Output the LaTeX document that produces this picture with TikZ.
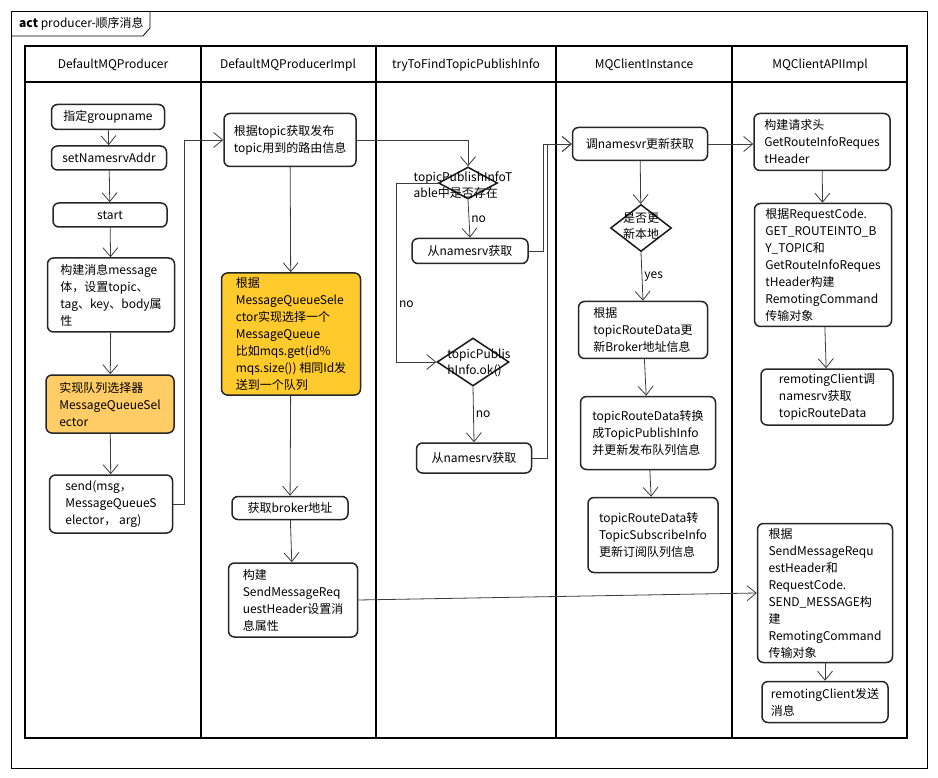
\documentclass[tikz,border=0pt]{standalone}
\usepackage{fontspec}
\setmainfont{Noto Sans CJK SC}
\usetikzlibrary{positioning, shapes.geometric, arrows.meta}

\definecolor{selorange}{HTML}{FFCC66}
\definecolor{selyellow}{HTML}{FFCA2C}
\definecolor{wire}{HTML}{3C3C3C}

\tikzset{
    act/.style={draw=black!85, line width=1.5pt, rounded corners=6pt, fill=white, align=left, inner sep=0pt, font=\fontsize{12}{17}\selectfont},
    decision/.style={draw=black!90, line width=1.5pt, shape=diamond, inner sep=0pt},
    flow/.style={draw=wire, line width=0.8pt, -{Straight Barb[length=9pt,width=15pt]}},
    guard/.style={font=\fontsize{12}{14}\selectfont, inner sep=2pt},
    lanehead/.style={font=\fontsize{12}{14}\selectfont},
}

\begin{document}
\begin{tikzpicture}[x=1pt, y=-1pt]
\useasboundingbox (0,0) rectangle (938,778);
\draw[line width=0.8pt] (11,11) rectangle (927,768);
\draw[line width=0.8pt] (11,36) -- (143,36) -- (150,28) -- (150,11);
\node[anchor=west, font=\fontsize{12}{14}\selectfont, inner sep=0pt] (title) at (19,24) {\textbf{act} producer-顺序消息};

\draw[line width=2pt] (25,46) rectangle (907,738);
\draw[line width=2pt] (25,82) -- (907,82);
\foreach \x in {201,376,556,732} \draw[line width=2pt] (\x,46) -- (\x,738);
\node[lanehead] (hdProducer) at (113,65) {DefaultMQProducer};
\node[lanehead] (hdImpl) at (288,65) {DefaultMQProducerImpl};
\node[lanehead] (hdFind) at (466,65) {tryToFindTopicPublishInfo};
\node[lanehead] (hdInstance) at (644,65) {MQClientInstance};
\node[lanehead] (hdApi) at (820,65) {MQClientAPIImpl};

% DefaultMQProducer
\node[act, align=center, minimum width=113pt, minimum height=25pt] (group) at (108,117) {指定groupname};
\node[act, align=center, minimum width=115pt, minimum height=24pt] (addr) at (109,158) {setNamesrvAddr};
\node[act, align=center, minimum width=114pt, minimum height=24pt] (start) at (110,215) {start};
\node[act, minimum width=127pt, minimum height=74pt] (msg) at (111,295) {构建消息message\\体，设置topic、\\tag、key、body属\\性};
\node[act, fill=selorange, minimum width=128pt, minimum height=58pt] (selector) at (110,404) {实现队列选择器\\MessageQueueSel\\ector};
\node[act, minimum width=123pt, minimum height=58pt] (send) at (111,504) {send(msg，\\MessageQueueS\\elector， arg)};

% DefaultMQProducerImpl
\node[act, minimum width=132pt, minimum height=53pt] (route) at (290,140) {根据topic获取发布\\topic用到的路由信息};
\node[act, fill=selyellow, minimum width=139pt, minimum height=122pt] (choose) at (291,334) {根据\\MessageQueueSele\\ctor实现选择一个\\MessageQueue\\比如mqs.get(id\%\\mqs.size()) 相同Id发\\送到一个队列};
\node[act, align=center, minimum width=116pt, minimum height=23pt] (broker) at (290,508) {获取broker地址};
\node[act, minimum width=129pt, minimum height=74pt] (header) at (293,600) {构建\\SendMessageReq\\uestHeader设置消\\息属性};

% tryToFindTopicPublishInfo
\node[decision, minimum width=59pt, minimum height=32pt] (exist) at (468,183) {};
\node[align=left, font=\fontsize{12}{16}\selectfont, inner sep=0pt] (existtext) at (463,185) {topicPublishInfoT\\able中是否存在};
\node[act, align=center, minimum width=116pt, minimum height=25pt] (fetchA) at (470,251) {从namesrv获取};
\node[decision, minimum width=72pt, minimum height=48pt] (ok) at (473,362) {};
\node[align=left, font=\fontsize{12}{16}\selectfont, inner sep=0pt] (oktext) at (479,363) {topicPublis\\hInfo.ok()};
\node[act, align=center, minimum width=115pt, minimum height=30pt] (fetchB) at (474,458) {从namesrv获取};

% MQClientInstance
\node[act, align=center, minimum width=135pt, minimum height=33pt] (update) at (640,144) {调namesvr更新获取};
\node[decision, minimum width=61pt, minimum height=47pt] (local) at (641,228) {};
\node[align=center, font=\fontsize{12}{16}\selectfont, inner sep=0pt] (localtext) at (641,226) {是否更\\新本地};
\node[act, minimum width=129pt, minimum height=57pt] (routeinfo) at (643,330) {根据\\topicRouteData更\\新Broker地址信息};
\node[act, minimum width=135pt, minimum height=73pt] (pubinfo) at (648,433) {topicRouteData转换\\成TopicPublishInfo\\并更新发布队列信息};
\node[act, minimum width=130pt, minimum height=75pt] (subinfo) at (653,535) {topicRouteData转\\TopicSubscribeInfo\\更新订阅队列信息};

% MQClientAPIImpl
\node[act, minimum width=136pt, minimum height=57pt] (reqhead) at (822,142) {构建请求头\\GetRouteInfoReques\\tHeader};
\node[act, minimum width=137pt, minimum height=123pt] (reqcmd) at (823,265) {根据RequestCode.\\GET\_ROUTEINTO\_B\\Y\_TOPIC和\\GetRouteInfoReques\\tHeader构建\\RemotingCommand\\传输对象};
\node[act, minimum width=132pt, minimum height=56pt] (getroute) at (827,397) {remotingClient调\\namesrv获取\\topicRouteData};
\node[act, minimum width=135pt, minimum height=139pt] (sendcmd) at (825,593) {根据\\SendMessageRequ\\estHeader和\\RequestCode.\\SEND\_MESSAGE构\\建\\RemotingCommand\\传输对象};
\node[act, minimum width=126pt, minimum height=41pt] (sendmsg) at (825,702) {remotingClient发送\\消息};

\draw[flow] (group) -- (addr);
\draw[flow] (addr) -- (start);
\draw[flow] (start) -- (msg);
\draw[flow] (msg) -- (selector);
\draw[flow] (selector) -- (send);
\draw[flow] (send.east) -- ++(11,0) |- (route.west);
\draw[flow] (route) -- (choose);
\draw[flow] (choose) -- (broker);
\draw[flow] (broker) -- (header);
\draw[flow] (header.east) -- (sendcmd.west);
\draw[flow] (route.east) -| (exist.north);
\draw[flow] (exist.south) -- node[guard, right] {no} (fetchA.north);
\draw[flow] (exist.west) -- ++(-41,0) |- node[guard, right, pos=0.34] {no} (ok.west);
\draw[flow] (ok.south) -- node[guard, right] {no} (fetchB.north);
\draw[flow] (fetchA.east) -- ++(15,0) |- (update.west);
\draw[flow] (fetchB.east) -- ++(15,0) |- (update.west);
\draw[flow] (update.east) -- (update.east -| reqhead.west);
\draw[flow] (update) -- (local);
\draw[flow] (local.south) -- node[guard, right, pos=0.5] {yes} (routeinfo.north);
\draw[flow] (routeinfo) -- (pubinfo);
\draw[flow] (pubinfo) -- (subinfo);
\draw[flow] (reqhead) -- (reqcmd);
\draw[flow] (reqcmd) -- (getroute);
\draw[flow] (sendcmd) -- (sendmsg);
\end{tikzpicture}
\end{document}
